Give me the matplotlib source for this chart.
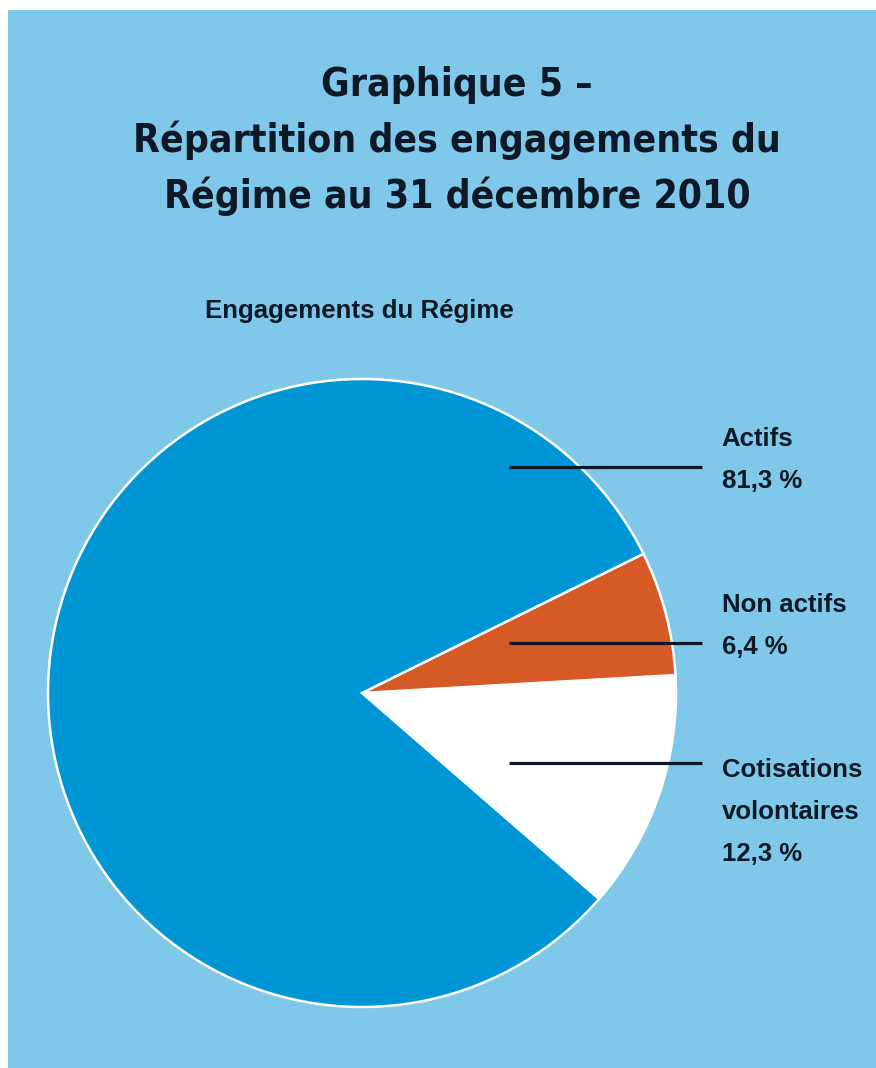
import matplotlib.pyplot as plt
from matplotlib.patches import Rectangle

# données du graphique
categories = ['Cotisations volontaires', 'Non actifs', 'Actifs']
parts = [12.3, 6.4, 81.3]
label_lines = [['Cotisations', 'volontaires', '12,3 %'],
               ['Non actifs', '6,4 %'],
               ['Actifs', '81,3 %']]
colors = ['#ffffff', '#d65a26', '#0096d6']

title_lines = ['Graphique 5 –',
               'Répartition des engagements du',
               'Régime au 31 décembre 2010']
subtitle = 'Engagements du Régime'

# positions (unités du rayon du camembert)
label_base_y = [-0.268, 0.258, 0.787]
leader_y = [-0.223, 0.159, 0.720]
line_step = 0.134

W, H = 876, 1068
fig = plt.figure(figsize=(W / 100, H / 100), dpi=100)
fig.patch.set_facecolor('white')
fig.patches.append(Rectangle((8 / W, 0), 1, 1 - 10 / H, transform=fig.transFigure,
                             facecolor='#80c8e9', edgecolor='none', zorder=-5))

txt_color = '#0e1826'
renderer = fig.canvas.get_renderer()
title_texts = []
for i, t in enumerate(title_lines):
    tt = fig.text(0.522, 1 - (96 + 56 * i) / H, t, ha='center', va='baseline',
                  fontsize=35, fontweight='bold', family='DejaVu Sans',
                  fontstretch='condensed', color=txt_color)
    title_texts.append(tt)
# ajuster la taille pour que la 2e ligne fasse ~649 px de large
w2 = title_texts[1].get_window_extent(renderer).width
fs = 35 * 649 / w2
for tt in title_texts:
    tt.set_fontsize(fs)

fig.text(205 / W, 1 - 318 / H, subtitle, ha='left', va='baseline',
         fontsize=18.6, fontweight='bold', family='Liberation Sans', color=txt_color)

# axe du camembert : centre (362, 693) px, rayon 314 px
cx, cy, r = 362, 693, 314
ax = fig.add_axes([(cx - r) / W, (H - cy - r) / H, 2 * r / W, 2 * r / H])

ax.pie(parts, colors=colors, startangle=-41.0, counterclock=True, radius=1,
       wedgeprops=dict(edgecolor='white', linewidth=1.8))
ax.set_xlim(-1, 1)
ax.set_ylim(-1, 1)
ax.set_aspect('equal')
ax.axis('off')

for lines, by, ly in zip(label_lines, label_base_y, leader_y):
    ax.plot([0.468, 1.083], [ly, ly], color=txt_color, lw=2.3, solid_capstyle='butt',
            clip_on=False, zorder=5)
    for k, s in enumerate(lines):
        ax.text(1.146, by - k * line_step, s, ha='left', va='baseline',
                fontsize=18.5, fontweight='bold', family='Liberation Sans',
                color=txt_color, clip_on=False)

fig.savefig('out.png', dpi=100, facecolor=fig.get_facecolor())
